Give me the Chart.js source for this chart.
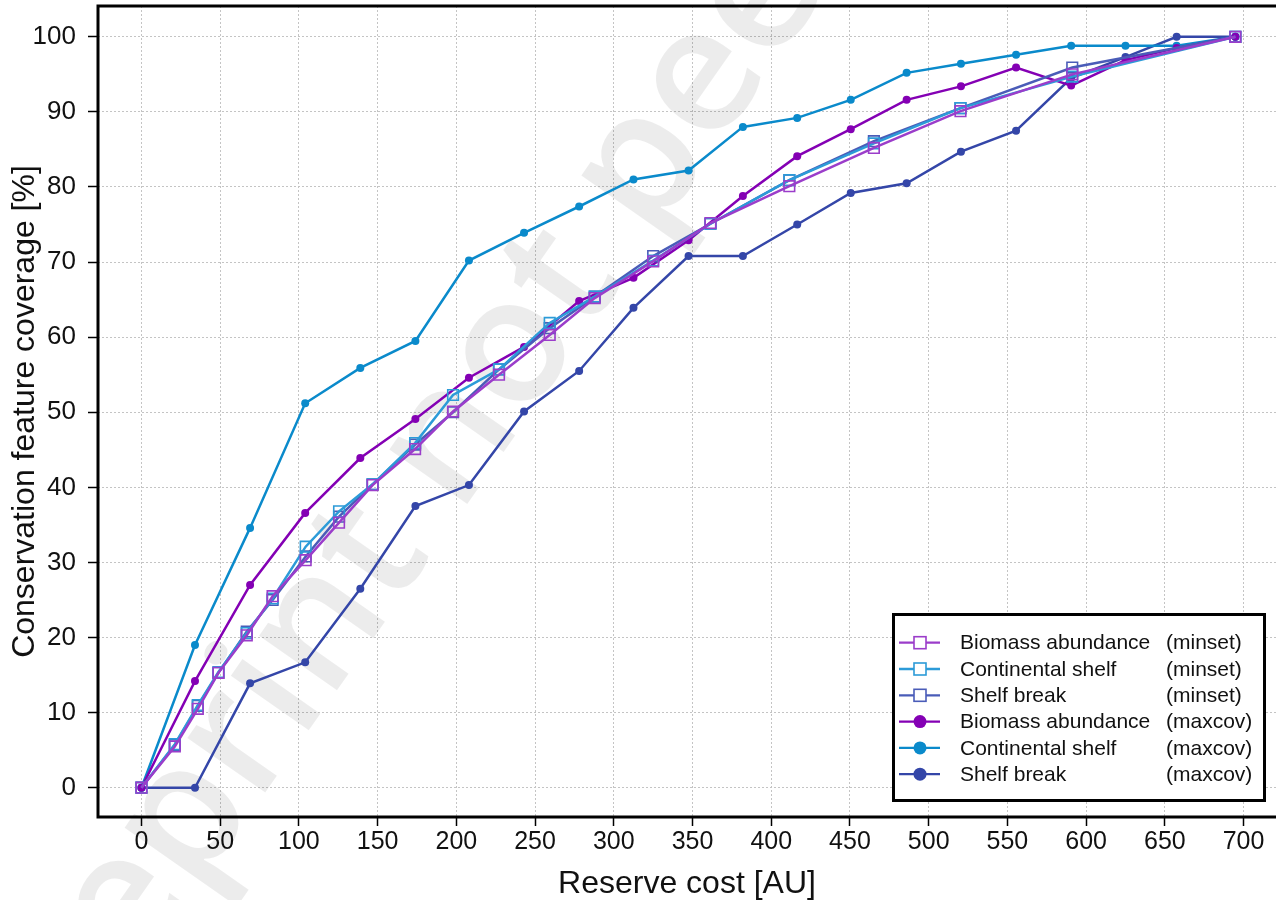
<!DOCTYPE html>
<html lang="en">
<head>
<meta charset="UTF-8">
<title>Reserve cost vs conservation feature coverage</title>
<script src="https://cdn.jsdelivr.net/npm/chart.js"></script>
<style>
  html, body { margin: 0; padding: 0; background: #fff; }
  #wrap { width: 1276px; height: 900px; }
</style>
</head>
<body>
<div id="wrap"><canvas id="coverageChart" width="1276" height="900"></canvas></div>
<script>
// costs where each method has a solution
const minsetCost = [0, 21.2, 35.8, 48.9, 66.9, 83.3, 104.3, 125.5, 146.8, 173.8, 197.9, 227.1, 259.3, 287.9, 325, 361.4, 411.5, 465.2, 520.2, 591.2, 694.8];
const maxcovCost = [0, 34, 69, 104, 139, 174, 208, 243, 278, 312.5, 347.5, 382, 416.5, 450.5, 486, 520.5, 555.5, 590.5, 625, 657.5, 694.8];

// coverage [%]
const biomassMinset = [0, 5.5, 10.5, 15.3, 20.3, 25.5, 30.3, 35.3, 40.3, 45.1, 50.1, 55.0, 60.3, 65.2, 70.1, 75.2, 80.1, 85.2, 90.1, 95.0, 100];
const shelfMinset   = [0, 5.8, 11.0, 15.4, 20.6, 25.2, 32.1, 36.8, 40.4, 45.9, 52.3, 55.7, 61.9, 65.4, 70.2, 75.1, 80.9, 85.8, 90.5, 94.7, 100];
const breakMinset   = [0, 5.7, 10.9, 15.3, 20.8, 25.0, 30.8, 36.1, 40.4, 45.7, 50.0, 55.7, 61.2, 65.4, 70.8, 75.1, 80.9, 86.1, 90.5, 95.9, 100];
const biomassMaxcov = [0, 14.2, 27.0, 36.6, 43.9, 49.1, 54.6, 58.7, 64.8, 67.9, 72.9, 78.8, 84.1, 87.7, 91.6, 93.4, 95.9, 93.5, 96.9, 98.5, 100];
const shelfMaxcov   = [0, 19.0, 34.6, 51.2, 55.9, 59.5, 70.2, 73.9, 77.4, 81.0, 82.2, 88.0, 89.2, 91.6, 95.2, 96.4, 97.6, 98.8, 98.8, 98.8, 100];
const breakMaxcov   = [0, 0, 13.9, 16.7, 26.5, 37.5, 40.3, 50.1, 55.5, 63.9, 70.8, 70.8, 75.0, 79.2, 80.5, 84.7, 87.5, 94.5, 97.3, 100, 100];

const featureNames = ['Biomass abundance', 'Continental shelf', 'Shelf break'];
const methodNames = ['minset', 'maxcov'];
const xTicks = [0, 50, 100, 150, 200, 250, 300, 350, 400, 450, 500, 550, 600, 650, 700];
const yTicks = [0, 10, 20, 30, 40, 50, 60, 70, 80, 90, 100];

const minsetColors = ['#9b3dca', '#2c9bd8', '#4a5cb8'];
const maxcovColors = ['#8400b4', '#0a8acb', '#3446a8'];

function pts(xs, ys) {
  return xs.map((x, i) => ({ x: x, y: ys[i] }));
}

const minsetSeries = [biomassMinset, shelfMinset, breakMinset];
const maxcovSeries = [biomassMaxcov, shelfMaxcov, breakMaxcov];

const datasets = [];
minsetSeries.forEach((s, i) => {
  datasets.push({
    label: featureNames[i] + ' (' + methodNames[0] + ')',
    data: pts(minsetCost, s),
    borderColor: minsetColors[i],
    borderWidth: 2.5,
    pointStyle: 'rect',
    pointRadius: 7.5,
    pointBorderWidth: 1.6,
    pointBackgroundColor: 'rgba(255,255,255,0)',
    pointBorderColor: minsetColors[i],
    fill: false,
    tension: 0
  });
});
maxcovSeries.forEach((s, i) => {
  datasets.push({
    label: featureNames[i] + ' (' + methodNames[1] + ')',
    data: pts(maxcovCost, s),
    borderColor: maxcovColors[i],
    borderWidth: 2.5,
    pointStyle: 'circle',
    pointRadius: 4,
    pointBorderWidth: 0,
    pointBackgroundColor: maxcovColors[i],
    fill: false,
    tension: 0
  });
});

// light grey diagonal watermark behind the lines, anchored on the "o" of "not"
const watermark = {
  id: 'watermark',
  beforeDatasetsDraw(chart) {
    const ctx = chart.ctx;
    const text = 'Preprint not peer reviewed';
    const size = 176;
    ctx.save();
    ctx.font = '600 ' + size + 'px "Open Sans"';
    ctx.fillStyle = 'rgba(0,0,0,0.075)';
    ctx.translate(515, 353);
    ctx.rotate(-55 * Math.PI / 180);
    const back = ctx.measureText('Preprint n').width + ctx.measureText('o').width / 2;
    ctx.textBaseline = 'alphabetic';
    ctx.fillText(text, -back, 0.27 * size);
    ctx.restore();
  }
};

// frame + two column legend
const frameLegend = {
  id: 'frameLegend',
  afterDraw(chart) {
    const ctx = chart.ctx;
    const a = chart.chartArea;
    ctx.save();
    ctx.strokeStyle = '#000';
    ctx.lineWidth = 3;
    ctx.beginPath();
    ctx.moveTo(a.right + 2, a.top);
    ctx.lineTo(a.left, a.top);
    ctx.lineTo(a.left, a.bottom);
    ctx.lineTo(a.right + 2, a.bottom);
    ctx.stroke();

    // legend box
    const bx = 893.5, by = 614.5, bw = 371, bh = 186;
    ctx.fillStyle = '#fff';
    ctx.fillRect(bx, by, bw, bh);
    ctx.strokeRect(bx, by, bw, bh);

    ctx.font = '21px "Liberation Sans", Arial, sans-serif';
    ctx.textBaseline = 'middle';
    chart.data.datasets.forEach((ds, i) => {
      const y = 642.7 + 26.3 * i;
      const feat = i % 3, meth = Math.floor(i / 3);
      ctx.strokeStyle = ds.borderColor;
      ctx.lineWidth = 2.3;
      ctx.beginPath();
      ctx.moveTo(899, y);
      ctx.lineTo(940, y);
      ctx.stroke();
      if (meth === 0) {
        ctx.fillStyle = '#fff';
        ctx.fillRect(914, y - 6, 12, 12);
        ctx.lineWidth = 1.6;
        ctx.strokeRect(914, y - 6, 12, 12);
      } else {
        ctx.fillStyle = ds.borderColor;
        ctx.beginPath();
        ctx.arc(920, y, 6.5, 0, Math.PI * 2);
        ctx.fill();
      }
      ctx.fillStyle = '#111';
      ctx.fillText(featureNames[feat], 960, y + 1);
      ctx.fillText('(' + methodNames[meth] + ')', 1166, y + 1);
    });
    ctx.restore();
  }
};

const gridStyle = {
  color: '#c4c4c4',
  lineWidth: 1,
  tickColor: '#000',
  tickWidth: 1.5
};

function noPad(s) {
  s.paddingTop = 0;
  s.paddingBottom = 0;
  s.paddingLeft = 0;
  s.paddingRight = 0;
}

new Chart(document.getElementById('coverageChart'), {
  type: 'line',
  data: { datasets: datasets },
  options: {
    responsive: false,
    animation: false,
    layout: { autoPadding: false, padding: { top: 6, left: 0, right: 0, bottom: 0 } },
    plugins: {
      legend: { display: false },
      tooltip: { enabled: false }
    },
    scales: {
      x: {
        type: 'linear',
        min: -27.6,
        max: 720.6,
        afterBuildTicks: s => { s.ticks = xTicks.map(v => ({ value: v })); },
        afterFit: s => { s.height = 83; noPad(s); },
        grid: Object.assign({ tickLength: 9 }, gridStyle),
        border: { display: false, dash: [2, 2] },
        ticks: {
          font: { family: '"Liberation Sans", Arial, sans-serif', size: 25 },
          color: '#111',
          padding: 1,
          maxRotation: 0,
          autoSkip: false
        },
        title: {
          display: true,
          text: 'Reserve cost [AU]',
          font: { family: '"Liberation Sans", Arial, sans-serif', size: 32, lineHeight: 1 },
          color: '#111',
          padding: 0
        }
      },
      y: {
        type: 'linear',
        min: -3.9,
        max: 104.1,
        afterBuildTicks: s => { s.ticks = yTicks.map(v => ({ value: v })); },
        afterFit: s => { s.width = 98; noPad(s); },
        grid: Object.assign({ tickLength: 10 }, gridStyle),
        border: { display: false, dash: [2, 2] },
        ticks: {
          font: { family: '"Liberation Sans", Arial, sans-serif', size: 26 },
          color: '#111',
          padding: 12,
          autoSkip: false
        },
        title: {
          display: true,
          text: 'Conservation feature coverage [%]',
          font: { family: '"Liberation Sans", Arial, sans-serif', size: 32, lineHeight: 1 },
          color: '#111',
          padding: { top: 9, bottom: 0 }
        }
      }
    }
  },
  plugins: [watermark, frameLegend]
});
</script>
</body>
</html>
